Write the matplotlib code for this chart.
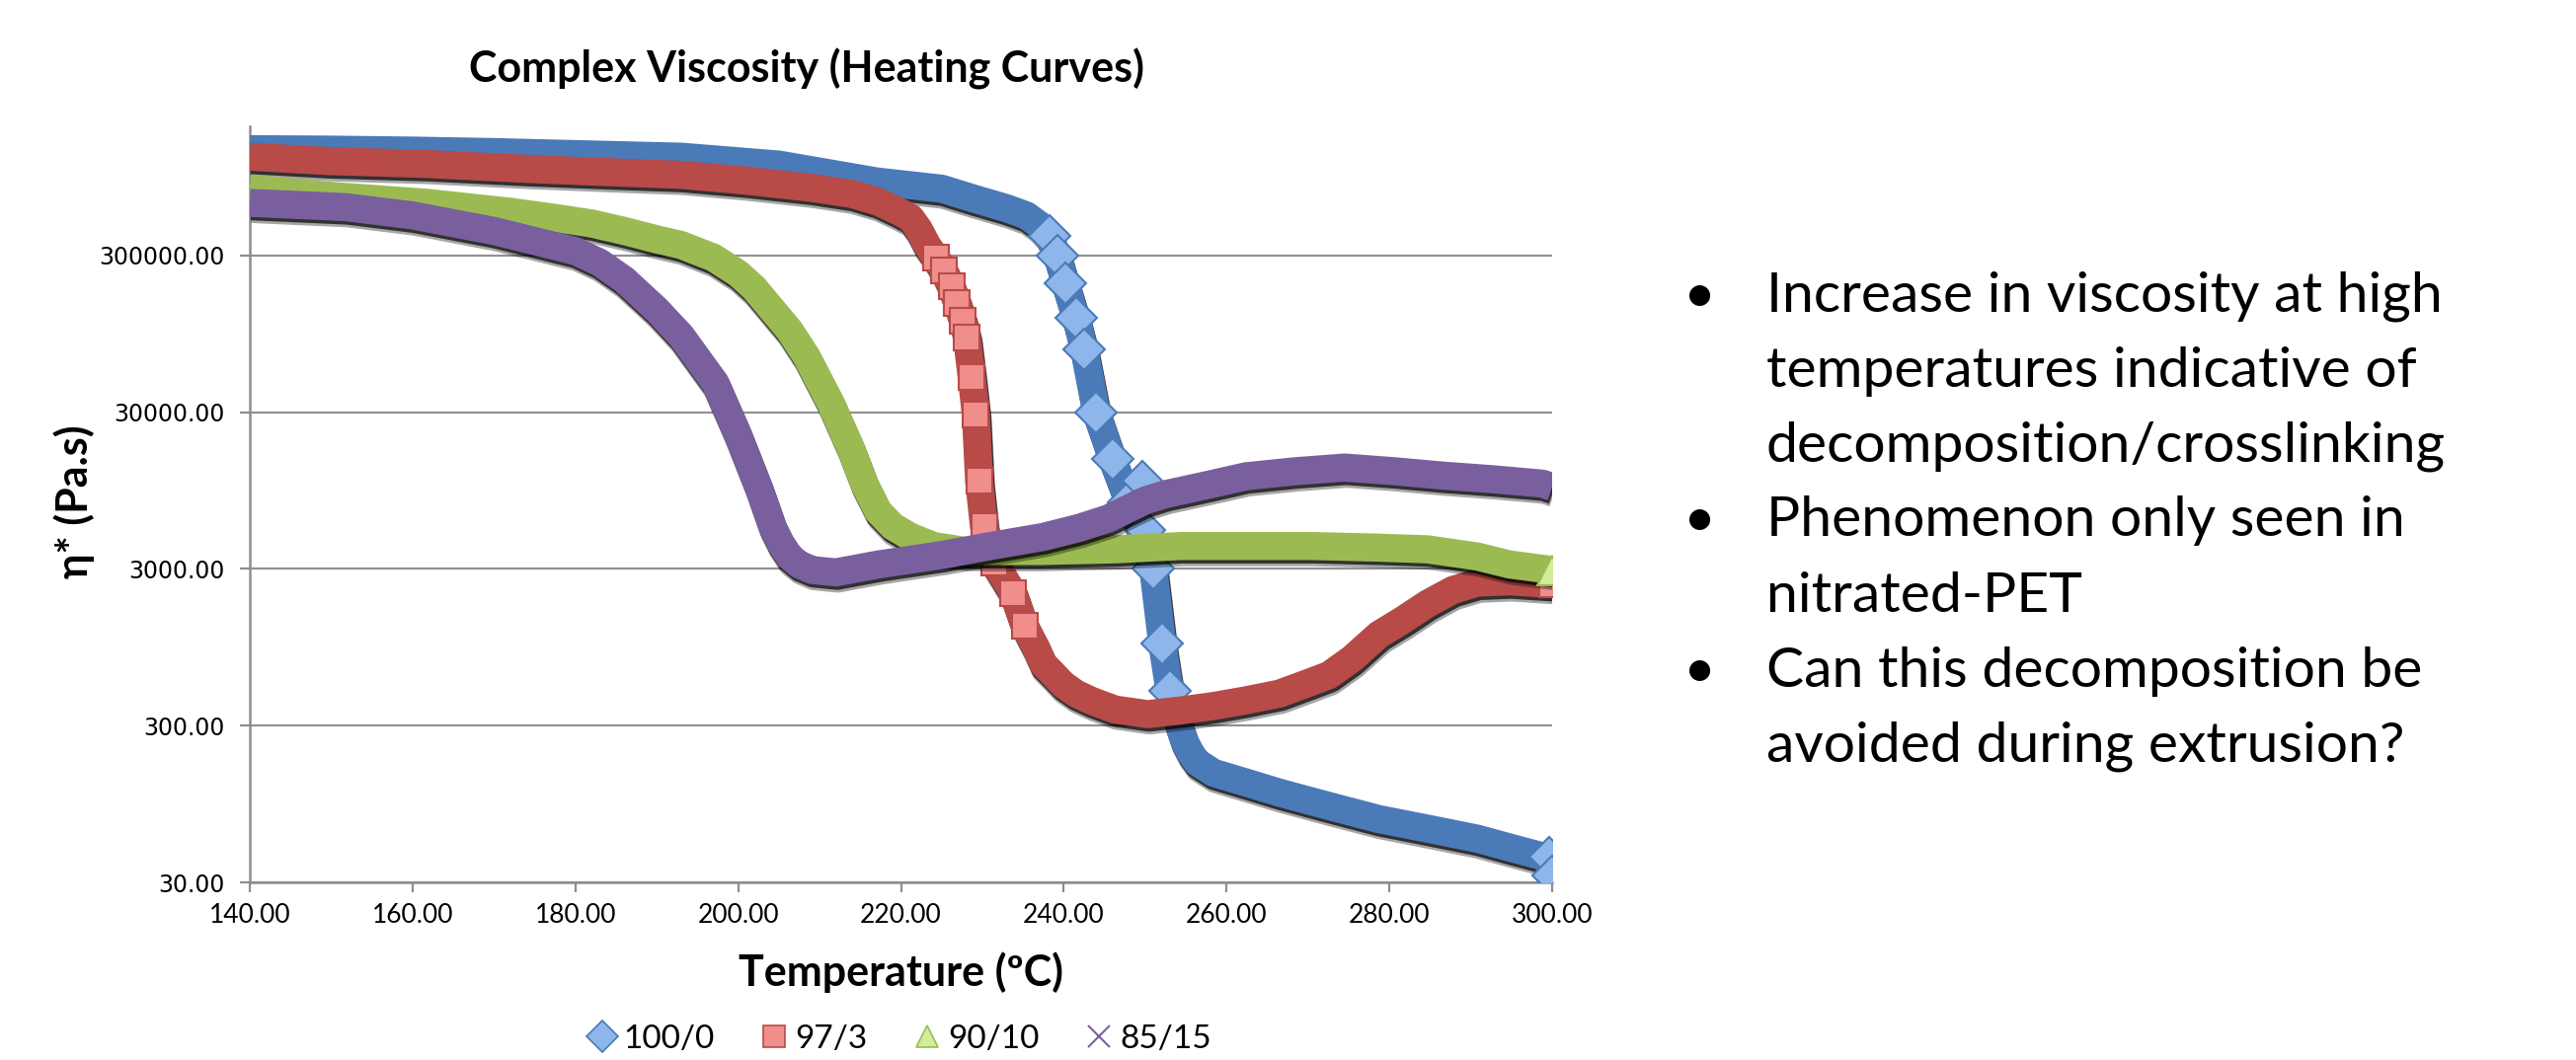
import matplotlib
matplotlib.use("Agg")
import matplotlib.pyplot as plt
import matplotlib.patheffects as pe
from matplotlib.lines import Line2D
from matplotlib.ticker import FixedLocator, FuncFormatter, NullLocator

# Values (temperature in C, complex viscosity in Pa.s)
T_100_0 = [140, 150, 160, 170, 180, 193, 205, 217, 225, 229, 233, 235.4, 237, 238.2,
           239.2, 240.2, 241.5, 242.5, 244, 246, 248, 250, 251, 252.1, 253, 254,
           254.8, 255.6, 256.4, 258.4, 262.4, 266.5, 272.6, 278.7, 284.7, 290.8, 294.8,
           298.8, 299.6, 300]
V_100_0 = [1.43e6, 1.42e6, 1.40e6, 1.37e6, 1.33e6, 1.28e6, 1.14e6, 8.9e5, 8.0e5, 6.9e5,
           6.0e5, 5.4e5, 4.7e5, 4.0e5, 3.0e5, 2.0e5, 1.2e5, 7.6e4, 3.0e4, 1.5e4, 8.0e3,
           4.5e3, 3.0e3, 1.0e3, 500, 320, 240, 200, 175, 150, 130, 112, 92, 76, 66, 57,
           50, 44, 44, 33]
OUT_T_100_0 = [249.6, 250.0]
OUT_V_100_0 = [1.1e4, 5.3e3]

T_97_3 = [140, 149.7, 161.8, 174, 184, 193, 201, 209, 214, 217.2, 219.5, 221.2, 222.2,
          223.2, 224.3, 225.3, 226.2, 226.9, 227.6, 228.1, 228.7, 229.2, 229.6, 230.2,
          231.5, 233.8, 235.2, 236.6, 237.5, 238.7, 239.9, 241.5, 243.5, 246.3, 250.3,
          254.4, 258.4, 262.4, 266.5, 270, 272.6, 275.4, 278.7, 281.7, 284.7, 287.8,
          290.8, 294.8, 300]
V_97_3 = [1.28e6, 1.2e6, 1.15e6, 1.07e6, 1.02e6, 9.8e5, 9.0e5, 8.1e5, 7.4e5, 6.6e5,
          5.8e5, 5.2e5, 4.4e5, 3.5e5, 2.9e5, 2.4e5, 1.9e5, 1.5e5, 1.15e5, 9.0e4, 5.0e4,
          2.9e4, 1.1e4, 5.6e3, 3.3e3, 2.1e3, 1.3e3, 940, 740, 640, 550, 480, 430, 380,
          355, 375, 400, 435, 480, 560, 630, 800, 1140, 1420, 1800, 2200, 2450, 2500,
          2400]

T_90_10 = [140, 150, 161.8, 172, 177.6, 182, 186, 190, 193, 197, 200, 202, 204.2, 206.3,
           208.4, 211.4, 213.8, 215.5, 217.2, 219, 221.2, 224, 228, 237, 246.3, 254.4,
           262.4, 270.5, 278.7, 284.7, 290.8, 294.8, 300]
V_90_10 = [8.0e5, 7.2e5, 6.5e5, 5.7e5, 5.2e5, 4.8e5, 4.3e5, 3.8e5, 3.5e5, 2.9e5, 2.3e5,
           1.85e5, 1.35e5, 1.0e5, 6.8e4, 3.4e4, 1.78e4, 1.05e4, 7.0e3, 5.6e3, 4.8e3,
           4.2e3, 3.9e3, 3.9e3, 4.0e3, 4.2e3, 4.2e3, 4.2e3, 4.1e3, 4.0e3, 3.6e3, 3.2e3,
           2.95e3]

T_85_15 = [140, 151.8, 160, 170, 176, 180, 183, 186, 190, 193, 197.2, 199.9, 202.5,
           204.2, 205.2, 206.3, 207.5, 209.1, 212, 217.2, 225.3, 231, 237.5, 242, 245.5,
           248, 250, 252.5, 255, 258.4, 262.4, 268.5, 274.5, 280.6, 286.7, 292.7, 298.8,
           300]
V_85_15 = [6.5e5, 6.1e5, 5.4e5, 4.3e5, 3.6e5, 3.2e5, 2.7e5, 2.1e5, 1.35e5, 9.2e4, 4.6e4,
           2.2e4, 1.0e4, 5.6e3, 4.4e3, 3.6e3, 3.2e3, 2.95e3, 2.85e3, 3.2e3, 3.7e3,
           4.2e3, 4.8e3, 5.5e3, 6.3e3, 7.3e3, 8.2e3, 9.0e3, 9.6e3, 1.05e4, 1.17e4,
           1.26e4, 1.33e4, 1.26e4, 1.18e4, 1.12e4, 1.05e4, 1.0e4]

LABELS = ["100/0", "97/3", "90/10", "85/15"]
X_TICKS = [140, 160, 180, 200, 220, 240, 260, 280, 300]
Y_TICKS = [30, 300, 3000, 30000, 300000]

BULLETS = [
    ["Increase in viscosity at high", "temperatures indicative of",
     "decomposition/crosslinking"],
    ["Phenomenon only seen in", "nitrated-PET"],
    ["Can this decomposition be", "avoided during extrusion?"],
]

COLORS = ["#4a7ab8", "#b84a48", "#9bbb52", "#7a5f9e"]
LIGHT = ["#8fb6ea", "#f08e8c", "#d2ec9a", "#a58cc8"]
MARKERS = ["D", "s", "^", "x"]

W, H = 2609, 1074
fig = plt.figure(figsize=(W / 100, H / 100), dpi=100)
ax = fig.add_axes([253 / W, 1 - 894 / H, (1572 - 253) / W, (894 - 128) / H])

shadow = [pe.SimpleLineShadow(offset=(1.5, -4.5), shadow_color="black", alpha=0.35),
          pe.SimpleLineShadow(offset=(1.0, -2.5), shadow_color="black", alpha=0.7),
          pe.Normal()]

series = [(T_100_0, V_100_0), (T_97_3, V_97_3), (T_90_10, V_90_10), (T_85_15, V_85_15)]
for i, (t, v) in enumerate(series):
    ax.plot(t, v, color=COLORS[i], lw=20.5, solid_joinstyle="round",
            solid_capstyle="butt", path_effects=shadow, zorder=3 + i)

# separate markers show through where the curves drop steeply
steep_b = [k for k, t in enumerate(T_100_0) if 238 <= t <= 253]
ax.plot([T_100_0[k] for k in steep_b], [V_100_0[k] for k in steep_b], ls="none",
        marker="D", ms=21, mfc=LIGHT[0], mec=COLORS[0], mew=1.5, zorder=3.4)
steep_r = [k for k, t in enumerate(T_97_3) if 224 <= t <= 236]
ax.plot([T_97_3[k] for k in steep_r], [V_97_3[k] for k in steep_r], ls="none",
        marker="s", ms=19, mfc=LIGHT[1], mec=COLORS[1], mew=1.5, zorder=4.4)

# a few stray points and end markers
ax.plot(OUT_T_100_0, OUT_V_100_0, ls="none", marker="D", ms=20, mfc=LIGHT[0],
        mec=COLORS[0], mew=1.5, zorder=3.5)
ax.plot(T_100_0[-2:], V_100_0[-2:], ls="none", marker="D", ms=20, mfc=LIGHT[0],
        mec=COLORS[0], mew=1.5, zorder=3.5)
ax.plot(T_97_3[-1:], V_97_3[-1:], ls="none", marker="s", ms=19, mfc=LIGHT[1],
        mec=COLORS[1], mew=1.5, zorder=4.5)
ax.plot(T_90_10[-1:], V_90_10[-1:], ls="none", marker="^", ms=21, mfc=LIGHT[2],
        mec=COLORS[2], mew=1.5, zorder=5.5)

ax.set_yscale("log")
ax.set_xlim(140, 300)
ax.set_ylim(30, 2.0e6)
ax.xaxis.set_major_locator(FixedLocator(X_TICKS))
ax.yaxis.set_major_locator(FixedLocator(Y_TICKS))
ax.yaxis.set_minor_locator(NullLocator())
fmt = FuncFormatter(lambda val, pos: f"{val:.2f}")
ax.xaxis.set_major_formatter(fmt)
ax.yaxis.set_major_formatter(fmt)

ax.grid(axis="y", color="#929292", lw=1.6, zorder=1)
for s in ["top", "right"]:
    ax.spines[s].set_visible(False)
for s in ["left", "bottom"]:
    ax.spines[s].set_color("#8e8e8e")
    ax.spines[s].set_linewidth(1.8)
ax.tick_params(axis="both", direction="out", length=7, width=1.6, color="#8e8e8e")
ax.tick_params(axis="x", pad=8, labelsize=19)
ax.tick_params(axis="y", pad=11, labelsize=17)
for lab in ax.get_xticklabels():
    lab.set_family("Lato")
for lab in ax.get_yticklabels():
    lab.set_family("DejaVu Sans")

fig.text(817 / W, 1 - 70 / H, "Complex Viscosity (Heating Curves)", ha="center",
         va="center", fontsize=31, fontweight="bold", family="Lato")
fig.text(912 / W, 1 - 985 / H, "Temperature (ºC)", ha="center", va="center",
         fontsize=31, fontweight="bold", family="Lato")
fig.text(75 / W, 1 - 508 / H, "η* (Pa.s)", ha="center", va="center", rotation=90,
         fontsize=31, fontweight="bold", family=["Lato", "DejaVu Sans"])

handles = []
for i in range(4):
    if MARKERS[i] == "x":
        h = Line2D([], [], ls="none", marker="x", ms=16, mec=COLORS[i], mew=1.5)
    else:
        h = Line2D([], [], ls="none", marker=MARKERS[i], ms=16, mfc=LIGHT[i],
                   mec=COLORS[i], mew=1.2)
    handles.append(h)
leg = fig.legend(handles, LABELS, loc="center", bbox_to_anchor=(912 / W, 1 - 1053 / H),
                 ncol=4, frameon=False, handlelength=0.8, handletextpad=0.25,
                 columnspacing=1.4, prop={"family": "Lato", "size": 24})

# bullet text on the right
line = 0
for block in BULLETS:
    for j, txt in enumerate(block):
        y = 1 - (300 + 76 * line) / H
        if j == 0:
            fig.text(1722 / W, y, "•", ha="center", va="center", fontsize=41,
                     family="Lato")
        fig.text(1789 / W, y, txt, ha="left", va="center", fontsize=41, family="Lato")
        line += 1

fig.savefig("out.png", dpi=100)
